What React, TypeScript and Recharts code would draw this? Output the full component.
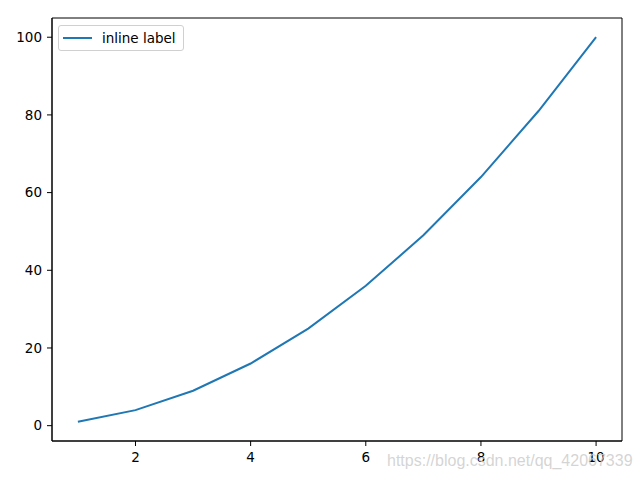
import React from "react";
import { LineChart, Line, XAxis, YAxis, ReferenceArea } from "recharts";

const xValues = [1, 2, 3, 4, 5, 6, 7, 8, 9, 10];
const yValues = [1, 4, 9, 16, 25, 36, 49, 64, 81, 100];
const xTicks = [2, 4, 6, 8, 10];
const yTicks = [0, 20, 40, 60, 80, 100];
const seriesName = "inline label";
const watermark = "https://blog.csdn.net/qq_42067339";

const xDomain: [number, number] = [0.55, 10.45];
const yDomain: [number, number] = [-3.95, 104.95];

const data = xValues.map((x, i) => ({ x, y: yValues[i] }));

const font = "'DejaVu Sans', sans-serif";

const LegendBox = () => (
  <div
    style={{
      position: "absolute",
      left: 58,
      top: 25,
      width: 126,
      height: 26,
      boxSizing: "border-box",
      border: "1px solid #d0d0d0",
      borderRadius: 3,
      background: "rgba(255,255,255,0.8)",
      display: "flex",
      alignItems: "center",
      fontFamily: font,
      fontSize: 13.5,
      color: "#000",
    }}
  >
    <svg width={39} height={10} style={{ marginLeft: 4, flex: "none" }}>
      <line x1={0} y1={5} x2={29} y2={5} stroke="#1f77b4" strokeWidth={2} />
    </svg>
    <span style={{ whiteSpace: "nowrap" }}>{seriesName}</span>
  </div>
);

export default function App() {
  return (
    <div style={{ position: "absolute", left: 0, top: 0, width: 640, height: 480, background: "#fff" }}>
      <LineChart
        width={640}
        height={480}
        data={data}
        margin={{ top: 18, right: 18, bottom: 0, left: 0 }}
      >
        <XAxis
          dataKey="x"
          type="number"
          domain={xDomain}
          ticks={xTicks}
          height={39}
          tickSize={5}
          tickMargin={6}
          tickLine={{ stroke: "#000" }}
          axisLine={{ stroke: "#000" }}
          tick={{ fill: "#000", fontSize: 13.5, fontFamily: font }}
          allowDataOverflow
        />
        <YAxis
          type="number"
          domain={yDomain}
          ticks={yTicks}
          width={52}
          tickSize={5}
          tickMargin={5}
          tickLine={{ stroke: "#000" }}
          axisLine={{ stroke: "#000" }}
          tick={{ fill: "#000", fontSize: 13.5, fontFamily: font }}
          allowDataOverflow
        />
        <ReferenceArea
          x1={xDomain[0]}
          x2={xDomain[1]}
          y1={yDomain[0]}
          y2={yDomain[1]}
          fill="none"
          fillOpacity={0}
          stroke="#000"
          strokeWidth={1}
          ifOverflow="visible"
        />
        <Line
          dataKey="y"
          name={seriesName}
          stroke="#1f77b4"
          strokeWidth={2}
          dot={false}
          isAnimationActive={false}
        />
      </LineChart>
      <LegendBox />
      <div
        style={{
          position: "absolute",
          left: 387,
          top: 452,
          fontFamily: "'Liberation Sans', Arial, sans-serif",
          fontSize: 16,
          color: "rgba(205,205,205,0.85)",
          whiteSpace: "nowrap",
          pointerEvents: "none",
        }}
      >
        {watermark}
      </div>
    </div>
  );
}
